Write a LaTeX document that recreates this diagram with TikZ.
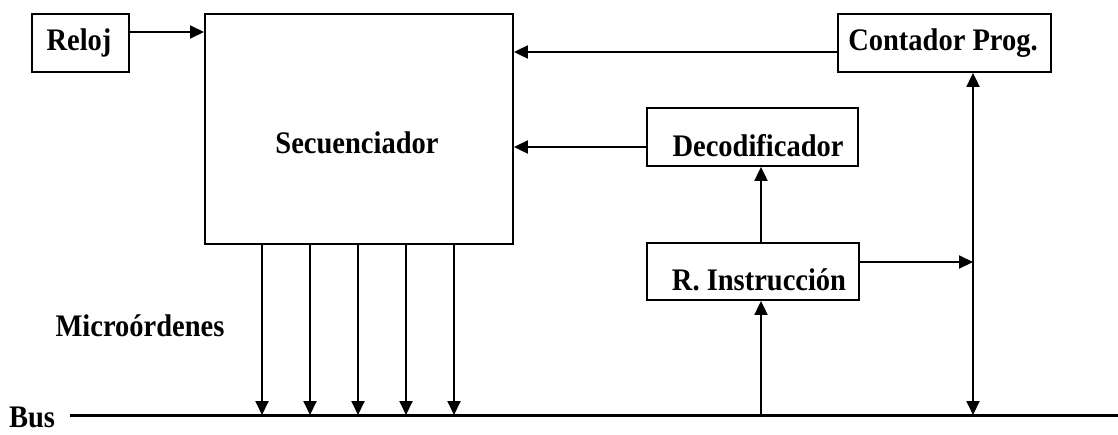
\documentclass[tikz,border=0pt]{standalone}
\usepackage{fontspec}
\setmainfont{Liberation Serif}
\usetikzlibrary{arrows.meta}
\begin{document}
\begin{tikzpicture}[x=1pt,y=-1pt,
  line width=1.9pt,
  blk/.style={draw,line width=1.9pt,rectangle,inner sep=0pt,anchor=north west},
  lbl/.style={font=\fontsize{28.5}{30}\selectfont\bfseries,inner sep=0pt,anchor=base,yscale=1.1},
  tip/.style={Triangle[length=14pt,width=13pt]},
  arr/.style={-{Triangle[length=14pt,width=13pt]}},
  dbl/.style={{Triangle[length=14pt,width=13pt]}-{Triangle[length=14pt,width=13pt]}},
  bus/.style={line width=3pt}]
  \useasboundingbox (0,0) rectangle (1118,434);

  % blocks
  \node[blk,minimum width=97pt,minimum height=58pt] (reloj) at (31,13) {};
  \node[blk,minimum width=308pt,minimum height=230pt] (sec) at (204,13) {};
  \node[blk,minimum width=213pt,minimum height=58pt] (pc) at (837,13) {};
  \node[blk,minimum width=211pt,minimum height=58pt] (dec) at (646,107) {};
  \node[blk,minimum width=212pt,minimum height=57pt] (ri) at (646,242) {};

  % block captions
  \node[lbl] (relojt) at (79,50) {Reloj};
  \node[lbl] (sect) at (357,153) {Secuenciador};
  \node[lbl] (pct) at (943,50) {Contador Prog.};
  \node[lbl] (dect) at (758,156) {Decodificador};
  \node[lbl] (rit) at (759,290) {R. Instrucción};
  \node[lbl] (micro) at (140,336) {Microórdenes};
  \node[lbl] (bust) at (32,427) {Bus};

  % bus
  \coordinate (busL) at (70,415);
  \coordinate (busR) at (1118,415);
  \draw[bus] (busL) -- (busR);

  % control signals
  \draw[arr] (reloj.east |- 0,32) -- (sec.west |- 0,32);
  \draw[arr] (pc.west |- 0,52) -- (sec.east |- 0,52);
  \draw[arr] (dec.west |- 0,147) -- (sec.east |- 0,147);
  \draw[arr] (ri.north -| 761,0) -- (dec.south -| 761,0);
  \draw[arr] (busL -| 761,0) -- (ri.south -| 761,0);
  \coordinate (pcbus) at (973,415);
  \draw[dbl] (pcbus) -- (pc.south -| pcbus);
  \draw[arr] (ri.east |- 0,262) -- (pcbus |- 0,262);

  % micro-orders from the sequencer to the bus
  \foreach \x in {262,310,358,406,454}
    \draw[arr] (sec.south -| \x,0) -- (busL -| \x,0);
\end{tikzpicture}
\end{document}
